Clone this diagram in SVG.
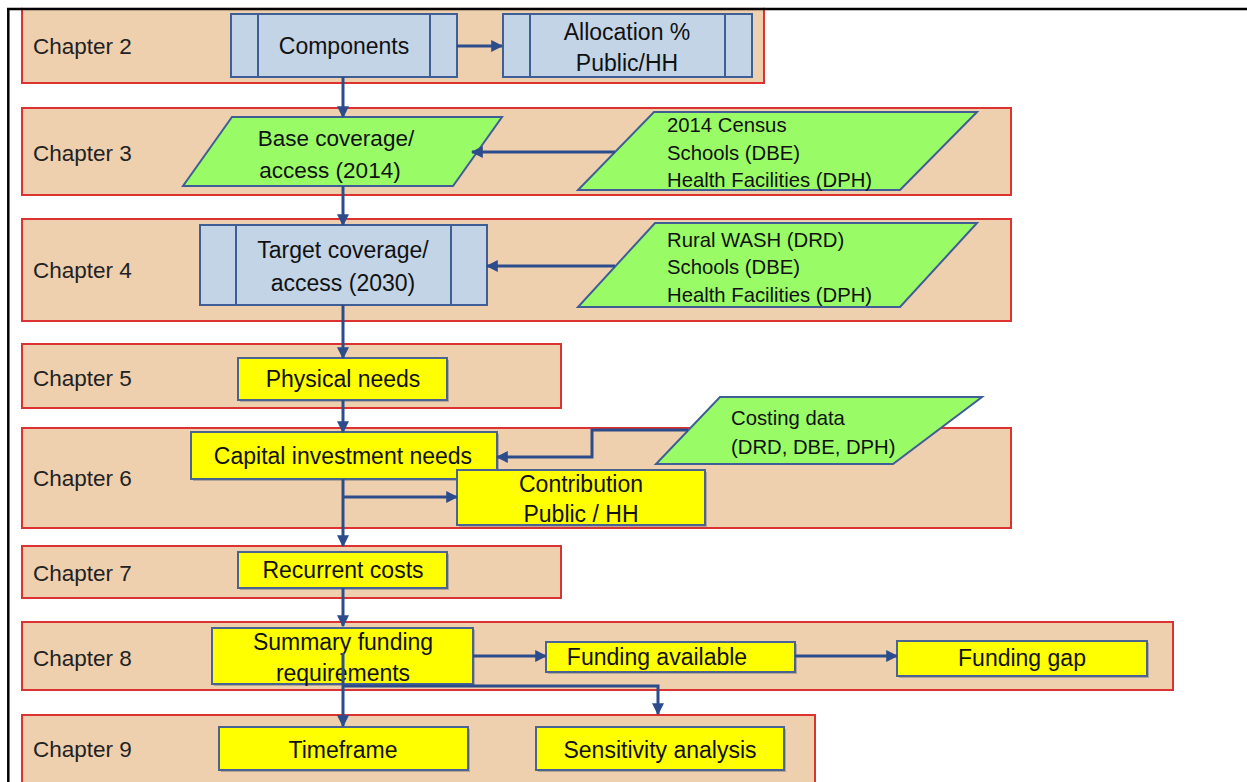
<svg xmlns="http://www.w3.org/2000/svg" width="1247" height="782" viewBox="0 0 1247 782">
<style>
.band{fill:#EFD0AE;stroke:#DC3232;stroke-width:2}
.ch{font-family:"Liberation Sans",Arial,sans-serif;font-size:22.5px;fill:#222;dominant-baseline:central}
.t{font-family:"Liberation Sans",Arial,sans-serif;font-size:23px;fill:#111;text-anchor:middle;dominant-baseline:central}
.ts{font-family:"Liberation Sans",Arial,sans-serif;font-size:20.3px;fill:#111;dominant-baseline:central}
.proc{fill:#C2D4E6;stroke:#3F5E96;stroke-width:2}
.pl{stroke:#3F5E96;stroke-width:2}
.data{fill:#99FC66;stroke:#3F5E96;stroke-width:2}
.yel{fill:#FFFF00;stroke:#4A6390;stroke-width:2}
.sh{fill:#8a8a8a;opacity:0.6}
.c{fill:none;stroke:#2C4C8C;stroke-width:3}
</style>
<defs>
<marker id="ah" viewBox="0 0 10 10" refX="9" refY="5" markerWidth="4" markerHeight="4" orient="auto" markerUnits="strokeWidth">
<path d="M0,0 L10,5 L0,10 Z" fill="#2C4C8C"/>
</marker>
</defs>
<rect x="0" y="0" width="1247" height="782" fill="#fff"/>

<g id="chapter2"><rect class="band" x="22" y="4" width="742" height="79"/><text class="ch" x="33" y="46">Chapter 2</text></g>
<g id="chapter3"><rect class="band" x="22" y="108" width="989" height="87"/><text class="ch" x="33" y="153">Chapter 3</text></g>
<g id="chapter4"><rect class="band" x="22" y="219" width="989" height="102"/><text class="ch" x="33" y="270">Chapter 4</text></g>
<g id="chapter5"><rect class="band" x="22" y="344" width="539" height="64"/><text class="ch" x="33" y="378">Chapter 5</text></g>
<g id="chapter6"><rect class="band" x="22" y="428" width="989" height="100"/><text class="ch" x="33" y="478">Chapter 6</text></g>
<g id="chapter7"><rect class="band" x="22" y="546" width="539" height="52"/><text class="ch" x="33" y="573">Chapter 7</text></g>
<g id="chapter8"><rect class="band" x="22" y="622" width="1151" height="68"/><text class="ch" x="33" y="658">Chapter 8</text></g>
<g id="chapter9"><rect class="band" x="22" y="715" width="793" height="80"/><text class="ch" x="33" y="749">Chapter 9</text></g>

<g id="components"><rect class="proc" x="231" y="14" width="226" height="63"/><line class="pl" x1="258" y1="14" x2="258" y2="77"/><line class="pl" x1="430" y1="14" x2="430" y2="77"/><text class="t" x="344" y="46">Components</text></g>
<g id="allocation"><rect class="proc" x="503" y="14" width="249" height="63"/><line class="pl" x1="530" y1="14" x2="530" y2="77"/><line class="pl" x1="725" y1="14" x2="725" y2="77"/><text class="t" x="627" y="32">Allocation %</text><text class="t" x="627" y="63">Public/HH</text></g>

<g id="base-coverage"><polygon class="data" points="232,117 502,117 453,186 183,186"/><text class="t" x="336" y="138" style="font-size:22.5px">Base coverage/</text><text class="t" x="330" y="170" style="font-size:22.5px">access (2014)</text></g>
<g id="census"><polygon class="data" points="654,112 977,112 900,190 578,190"/><text class="ts" x="667" y="125">2014 Census</text><text class="ts" x="667" y="153">Schools (DBE)</text><text class="ts" x="667" y="180">Health Facilities (DPH)</text></g>

<g id="target-coverage"><rect class="proc" x="200" y="225" width="287" height="80"/><line class="pl" x1="236" y1="225" x2="236" y2="305"/><line class="pl" x1="451" y1="225" x2="451" y2="305"/><text class="t" x="343" y="250">Target coverage/</text><text class="t" x="343" y="283">access (2030)</text></g>
<g id="rural-wash"><polygon class="data" points="655,223 977,223 900,307 578,307"/><text class="ts" x="667" y="240">Rural WASH (DRD)</text><text class="ts" x="667" y="267">Schools (DBE)</text><text class="ts" x="667" y="295">Health Facilities (DPH)</text></g>

<g id="physical-needs"><rect class="sh" x="240" y="360" width="209" height="42"/><rect class="yel" x="238" y="358" width="209" height="42"/><text class="t" x="343" y="379">Physical needs</text></g>

<g id="costing-data"><polygon class="data" points="720,397 982,397 893,464 656,464"/><text class="ts" x="731" y="418">Costing data</text><text class="ts" x="731" y="447">(DRD, DBE, DPH)</text></g>
<g id="capital-investment"><rect class="sh" x="193" y="434" width="306" height="47"/><rect class="yel" x="191" y="432" width="306" height="47"/><text class="t" x="343" y="456">Capital investment needs</text></g>
<g id="contribution"><rect class="sh" x="459" y="472" width="248" height="55"/><rect class="yel" x="457" y="470" width="248" height="55"/><text class="t" x="581" y="484">Contribution</text><text class="t" x="581" y="514">Public / HH</text></g>

<g id="recurrent-costs"><rect class="sh" x="240" y="554" width="209" height="36"/><rect class="yel" x="238" y="552" width="209" height="36"/><text class="t" x="343" y="570">Recurrent costs</text></g>

<g id="summary-funding"><rect class="sh" x="214" y="630" width="261" height="56"/><rect class="yel" x="212" y="628" width="261" height="56"/><text class="t" x="343" y="642">Summary funding</text><text class="t" x="343" y="673">requirements</text></g>
<g id="funding-available"><rect class="sh" x="548" y="644" width="249" height="30"/><rect class="yel" x="546" y="642" width="249" height="30"/><text class="t" x="657" y="657">Funding available</text></g>
<g id="funding-gap"><rect class="sh" x="899" y="643" width="250" height="35"/><rect class="yel" x="897" y="641" width="250" height="35"/><text class="t" x="1022" y="658">Funding gap</text></g>

<g id="timeframe"><rect class="sh" x="221" y="729" width="249" height="43"/><rect class="yel" x="219" y="727" width="249" height="43"/><text class="t" x="343" y="750">Timeframe</text></g>
<g id="sensitivity"><rect class="sh" x="538" y="729" width="248" height="43"/><rect class="yel" x="536" y="727" width="248" height="43"/><text class="t" x="660" y="750">Sensitivity analysis</text></g>

<g id="connectors">
<line class="c" x1="457" y1="46" x2="502" y2="46" marker-end="url(#ah)"/>
<line class="c" x1="343" y1="77" x2="343" y2="117" marker-end="url(#ah)"/>
<line class="c" x1="615" y1="152" x2="472" y2="152" marker-end="url(#ah)"/>
<line class="c" x1="343" y1="186" x2="343" y2="225" marker-end="url(#ah)"/>
<line class="c" x1="615" y1="266" x2="487" y2="266" marker-end="url(#ah)"/>
<line class="c" x1="343" y1="305" x2="343" y2="358" marker-end="url(#ah)"/>
<line class="c" x1="343" y1="400" x2="343" y2="432" marker-end="url(#ah)"/>
<polyline class="c" points="688,430 592,430 592,457 497,457" marker-end="url(#ah)"/>
<line class="c" x1="343" y1="497" x2="457" y2="497" marker-end="url(#ah)"/>
<line class="c" x1="343" y1="479" x2="343" y2="546" marker-end="url(#ah)"/>
<line class="c" x1="343" y1="588" x2="343" y2="626" marker-end="url(#ah)"/>
<line class="c" x1="473" y1="656" x2="546" y2="656" marker-end="url(#ah)"/>
<line class="c" x1="795" y1="656" x2="897" y2="656" marker-end="url(#ah)"/>
<line class="c" x1="343" y1="653" x2="343" y2="726" marker-end="url(#ah)"/>
<polyline class="c" points="343,686 658,686 658,714" marker-end="url(#ah)"/>
</g>

<g id="frame">
<rect x="0" y="0" width="1247" height="7.8" fill="#fff"/>
<line x1="7" y1="9" x2="1247" y2="9" stroke="#000" stroke-width="2.5"/>
<line x1="8.3" y1="8" x2="8.3" y2="782" stroke="#000" stroke-width="2.5"/>
</g>
</svg>
